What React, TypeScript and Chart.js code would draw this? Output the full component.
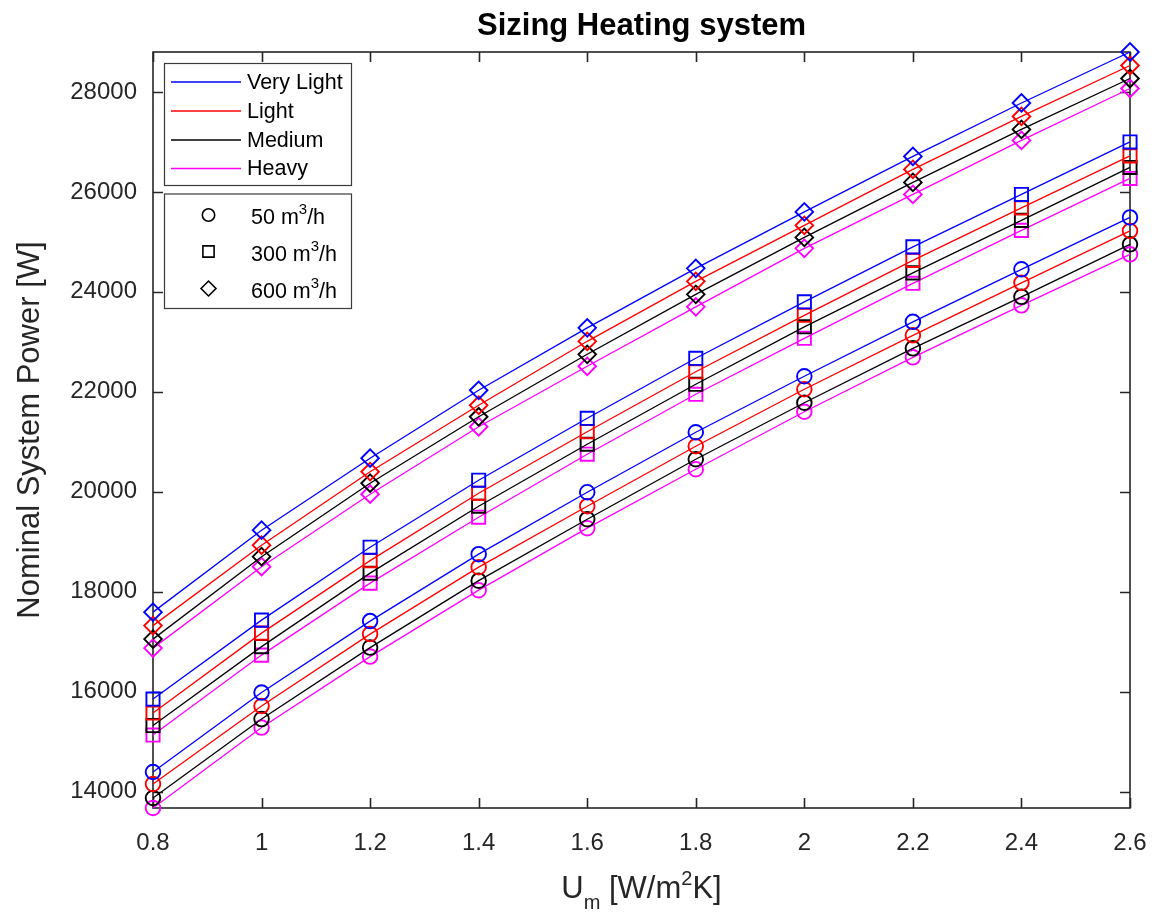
import React, { useEffect, useRef } from 'react';
import { Chart, registerables } from 'chart.js';

Chart.register(...registerables);

// ---------- data ----------
const X_VALUES = [0.8, 1.0, 1.2, 1.4, 1.6, 1.8, 2.0, 2.2, 2.4, 2.6];
const X_TICK_LABELS = ['0.8', '1', '1.2', '1.4', '1.6', '1.8', '2', '2.2', '2.4', '2.6'];
const Y_TICKS = [14000, 16000, 18000, 20000, 22000, 24000, 26000, 28000];
const Y_MIN = 13670;
const Y_MAX = 28800;

const TITLE = 'Sizing Heating system';
const Y_TITLE = 'Nominal System Power [W]';
const CATEGORIES = ['Very Light', 'Light', 'Medium', 'Heavy'];
const FLOWS = ['50', '300', '600'];

// 600 m3/h (diamonds)
const VL_600 = [17590, 19230, 20670, 22030, 23280, 24470, 25600, 26710, 27780, 28800];
const L_600 = [17320, 18930, 20400, 21730, 23010, 24210, 25330, 26450, 27510, 28530];
const M_600 = [17050, 18700, 20170, 21500, 22750, 23950, 25090, 26190, 27250, 28270];
const H_600 = [16870, 18500, 19950, 21300, 22510, 23700, 24870, 25950, 27030, 28070];
// 300 m3/h (squares)
const VL_300 = [15850, 17430, 18890, 20230, 21470, 22670, 23800, 24900, 25950, 27000];
const L_300 = [15570, 17170, 18620, 19970, 21200, 22400, 23530, 24630, 25680, 26720];
const M_300 = [15320, 16900, 18370, 19710, 20950, 22150, 23300, 24380, 25430, 26490];
const H_300 = [15130, 16730, 18170, 19490, 20750, 21950, 23070, 24170, 25230, 26270];
// 50 m3/h (circles)
const VL_50 = [14390, 15980, 17410, 18750, 19990, 21190, 22310, 23400, 24450, 25490];
const L_50 = [14150, 15710, 17150, 18490, 19710, 20910, 22050, 23130, 24180, 25220];
const M_50 = [13870, 15450, 16880, 18220, 19450, 20650, 21780, 22870, 23900, 24950];
const H_50 = [13670, 15280, 16700, 18030, 19270, 20450, 21600, 22690, 23730, 24750];

const SERIES_50 = [VL_50, L_50, M_50, H_50];
const SERIES_300 = [VL_300, L_300, M_300, H_300];
const SERIES_600 = [VL_600, L_600, M_600, H_600];

// ---------- styles ----------
const COLORS = ['#0000ff', '#ff0000', '#000000', '#ff00ff'];
const FONT = '"Liberation Sans", Arial, Helvetica, sans-serif';
const AXIS_COLOR = '#262626';
const POINT_STYLES = ['circle', 'rect', 'rectRot'];
const POINT_RADII = [7.3, 9.3, 8.8];

function drawMarker(ctx: CanvasRenderingContext2D, style: string, x: number, y: number, r: number) {
  ctx.beginPath();
  if (style === 'circle') {
    ctx.arc(x, y, r, 0, Math.PI * 2);
  } else if (style === 'rect') {
    const s = Math.SQRT1_2 * r;
    ctx.rect(x - s, y - s, 2 * s, 2 * s);
  } else {
    ctx.moveTo(x - r, y);
    ctx.lineTo(x, y - r);
    ctx.lineTo(x + r, y);
    ctx.lineTo(x, y + r);
    ctx.closePath();
  }
  ctx.stroke();
}

const matlabPlugin = {
  id: 'matlabAxes',
  beforeDatasetsDraw(chart: any) {
    const { ctx, chartArea, scales } = chart;
    const { left, right, top, bottom } = chartArea;
    const tl = 10;
    ctx.save();
    ctx.strokeStyle = AXIS_COLOR;
    ctx.lineWidth = 1.6;
    ctx.beginPath();
    scales.x.ticks.forEach((t: any) => {
      const px = Math.round(scales.x.getPixelForValue(t.value)) + 0.5;
      ctx.moveTo(px, bottom);
      ctx.lineTo(px, bottom - tl);
      ctx.moveTo(px, top);
      ctx.lineTo(px, top + tl);
    });
    scales.y.ticks.forEach((t: any) => {
      const py = Math.round(scales.y.getPixelForValue(t.value)) + 0.5;
      ctx.moveTo(left, py);
      ctx.lineTo(left + tl, py);
      ctx.moveTo(right, py);
      ctx.lineTo(right - tl, py);
    });
    ctx.stroke();
    ctx.strokeRect(left, top, right - left, bottom - top);
    ctx.restore();
  },
  afterDraw(chart: any) {
    const { ctx, chartArea } = chart;
    const { left, right, top, bottom } = chartArea;
    const cx = (left + right) / 2;
    ctx.save();

    // title
    ctx.fillStyle = '#000000';
    ctx.font = `bold 31px ${FONT}`;
    ctx.textAlign = 'center';
    ctx.textBaseline = 'middle';
    ctx.fillText(TITLE, cx, 26);

    // y-axis title
    ctx.fillStyle = AXIS_COLOR;
    ctx.font = `31px ${FONT}`;
    ctx.translate(30, (top + bottom) / 2);
    ctx.rotate(-Math.PI / 2);
    ctx.fillText(Y_TITLE, 0, 0);
    ctx.setTransform(1, 0, 0, 1, 0, 0);

    // x-axis title: U_m [W/m^2K]
    const base = 898;
    const big = `31px ${FONT}`;
    const small = `20px ${FONT}`;
    const parts: [string, string, number][] = [
      ['U', big, 0],
      ['m', small, 11],
      [' [W/m', big, 0],
      ['2', small, -13],
      ['K]', big, 0],
    ];
    let total = 0;
    parts.forEach(([t, f]) => {
      ctx.font = f;
      total += ctx.measureText(t).width;
    });
    let px = cx - total / 2;
    ctx.textAlign = 'left';
    ctx.textBaseline = 'alphabetic';
    parts.forEach(([t, f, dy]) => {
      ctx.font = f;
      ctx.fillText(t, px, base + dy);
      px += ctx.measureText(t).width;
    });

    // legend box 1 (categories)
    const bx = 164.5;
    const bw = 187;
    ctx.fillStyle = '#ffffff';
    ctx.strokeStyle = '#3a3a3a';
    ctx.lineWidth = 1.2;
    ctx.fillRect(bx, 63.5, bw, 122);
    ctx.strokeRect(bx, 63.5, bw, 122);
    const rows1 = [82, 111, 140, 168.5];
    ctx.font = `21.5px ${FONT}`;
    ctx.textBaseline = 'middle';
    CATEGORIES.forEach((c, i) => {
      ctx.strokeStyle = COLORS[i];
      ctx.lineWidth = 1.4;
      ctx.beginPath();
      ctx.moveTo(171, rows1[i]);
      ctx.lineTo(241, rows1[i]);
      ctx.stroke();
      ctx.fillStyle = '#000000';
      ctx.fillText(c, 247, rows1[i] + 1);
    });

    // legend box 2 (flows)
    ctx.fillStyle = '#ffffff';
    ctx.strokeStyle = '#3a3a3a';
    ctx.lineWidth = 1.2;
    ctx.fillRect(bx, 194, bw, 114.5);
    ctx.strokeRect(bx, 194, bw, 114.5);
    const rows2 = [215, 251.5, 288.5];
    FLOWS.forEach((f, i) => {
      ctx.strokeStyle = '#000000';
      ctx.lineWidth = 1.6;
      drawMarker(ctx, POINT_STYLES[i], 208.5, rows2[i], POINT_RADII[i] * 0.85);
      ctx.fillStyle = '#000000';
      ctx.textBaseline = 'alphabetic';
      let tx = 251;
      const by = rows2[i] + 9;
      ctx.font = `21.5px ${FONT}`;
      const t1 = `${f} m`;
      ctx.fillText(t1, tx, by);
      tx += ctx.measureText(t1).width;
      ctx.font = `15px ${FONT}`;
      ctx.fillText('3', tx, by - 10);
      tx += ctx.measureText('3').width;
      ctx.font = `21.5px ${FONT}`;
      ctx.fillText('/h', tx, by);
    });

    ctx.restore();
  },
};

function buildDatasets() {
  const groups = [SERIES_50, SERIES_300, SERIES_600];
  const ds: any[] = [];
  groups.forEach((group, gi) => {
    group.forEach((vals, ci) => {
      ds.push({
        label: `${CATEGORIES[ci]} ${FLOWS[gi]} m³/h`,
        data: X_VALUES.map((x, k) => ({ x, y: vals[k] })),
        borderColor: COLORS[ci],
        backgroundColor: 'rgba(0,0,0,0)',
        borderWidth: 1.3,
        pointStyle: POINT_STYLES[gi],
        pointRadius: POINT_RADII[gi],
        pointBorderWidth: 1.9,
        pointBorderColor: COLORS[ci],
        pointBackgroundColor: 'rgba(0,0,0,0)',
        pointHoverRadius: POINT_RADII[gi],
        clip: false,
        tension: 0,
        fill: false,
      });
    });
  });
  return ds;
}

export default function App() {
  const ref = useRef<HTMLCanvasElement | null>(null);

  useEffect(() => {
    if (!ref.current) return;
    const chart = new Chart(ref.current, {
      type: 'line',
      data: { datasets: buildDatasets() },
      plugins: [matlabPlugin],
      options: {
        animation: false,
        responsive: false,
        devicePixelRatio: 1,
        layout: { padding: { left: 0, right: 26, top: 52, bottom: 0 } },
        plugins: {
          legend: { display: false },
          tooltip: { enabled: false },
          title: { display: false },
        },
        scales: {
          x: {
            type: 'linear',
            min: X_VALUES[0],
            max: X_VALUES[X_VALUES.length - 1],
            grid: { display: false, drawTicks: false },
            border: { display: false },
            afterBuildTicks: (s: any) => {
              s.ticks = X_VALUES.map((v) => ({ value: v }));
            },
            afterFit: (s: any) => {
              s.height = 113;
              s.paddingLeft = 0;
              s.paddingRight = 0;
            },
            ticks: {
              autoSkip: false,
              maxRotation: 0,
              padding: 21,
              color: AXIS_COLOR,
              font: { family: FONT, size: 24 },
              callback: (_v: any, i: number) => X_TICK_LABELS[i],
            },
          },
          y: {
            type: 'linear',
            min: Y_MIN,
            max: Y_MAX,
            grid: { display: false, drawTicks: false },
            border: { display: false },
            afterBuildTicks: (s: any) => {
              s.ticks = Y_TICKS.map((v) => ({ value: v }));
            },
            afterFit: (s: any) => {
              s.width = 153;
              s.paddingTop = 0;
              s.paddingBottom = 0;
            },
            ticks: {
              autoSkip: false,
              padding: 16,
              color: AXIS_COLOR,
              font: { family: FONT, size: 24 },
              callback: (v: any) => String(v),
            },
          },
        },
      } as any,
    });
    return () => chart.destroy();
  }, []);

  return (
    <div style={{ position: 'absolute', left: 0, top: 0, width: 1156, height: 921, background: '#ffffff' }}>
      <canvas ref={ref} width={1156} height={921} style={{ display: 'block', width: 1156, height: 921 }} />
    </div>
  );
}
